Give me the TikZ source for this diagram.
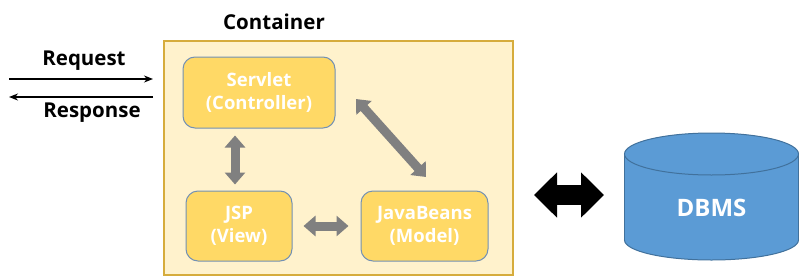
\documentclass[tikz,border=0pt]{standalone}
\usepackage{fontspec}
\setmainfont{Open Sans}
\usetikzlibrary{arrows.meta}
\definecolor{contfill}{HTML}{FFF2CC}
\definecolor{contline}{RGB}{214,172,60}
\definecolor{boxfill}{HTML}{FFD966}
\definecolor{boxline}{RGB}{115,145,180}
\definecolor{garrowc}{HTML}{808080}
\definecolor{dbfill}{HTML}{5B9BD5}
\definecolor{dbline}{HTML}{41719C}
\tikzset{
  container/.style={draw=contline, fill=contfill, line width=1.2pt, minimum width=349pt, minimum height=234pt},
  mvcbox/.style={draw=boxline, fill=boxfill, line width=1pt, rounded corners=12pt, align=center,
     text=white, font=\bfseries\fontsize{18.5}{23}\selectfont, inner sep=0pt},
  lbl/.style={font=\bfseries\fontsize{20.5}{24}\selectfont, text=black, inner sep=0pt},
  garrow/.style={draw=garrowc, line width=9pt, {Triangle[width=20pt,length=12pt]}-{Triangle[width=20pt,length=12pt]}},
  barrow/.style={draw=black, line width=20pt, {Triangle[width=44pt,length=23pt]}-{Triangle[width=44pt,length=23pt]}},
  thinarrow/.style={draw=black, line width=1.8pt, -{Stealth[length=9pt,width=7pt]}},
}
\begin{document}
\begin{tikzpicture}[x=1pt,y=-1pt]
\useasboundingbox (0,0) rectangle (800,276);
% container
\node[container] (cont) at (338.5,158) {};
\node[lbl] (contlbl) at (274,22) {Container};
% boxes
\node[mvcbox, minimum width=152pt, minimum height=71pt] (servlet) at (259,92.5) {Servlet\\(Controller)};
\node[mvcbox, minimum width=106pt, minimum height=70pt] (jsp) at (239,226) {JSP\\(View)};
\node[mvcbox, minimum width=127pt, minimum height=70pt] (beans) at (424.5,226) {JavaBeans\\(Model)};
% gray arrows
\draw[garrow, shorten <=6pt, shorten >=7pt] ([xshift=-4pt]jsp.north) -- ([xshift=-4pt]jsp.north |- servlet.south);
\draw[garrow, shorten <=11pt, shorten >=12pt] (jsp.east) -- (beans.west);
\coordinate (d1) at (356,99);
\coordinate (d2) at (426,177);
\draw[garrow] (d1) -- (d2);
% request/response
\coordinate (rqL) at (9,79);
\coordinate (rqR) at (153,79);
\coordinate (rsL) at (9,97);
\coordinate (rsR) at (153,97);
\draw[thinarrow] (rqL) -- (rqR);
\draw[thinarrow] (rsR) -- (rsL);
\node[lbl] (req) at (84,61) {Request};
\node[lbl] (resp) at (92,113) {Response};
% black double arrow
\coordinate (b1) at (534,195);
\coordinate (b2) at (604,195);
\draw[barrow] (b1) -- (b2);
% DBMS cylinder
\fill[dbfill, draw=dbline, line width=1pt] (711.5,240) ellipse [x radius=87, y radius=20];
\fill[dbfill] (624.5,154) rectangle (798.5,240);
\draw[dbline, line width=1pt] (624.5,154) -- (624.5,240);
\draw[dbline, line width=1pt] (798.5,154) -- (798.5,240);
\fill[dbfill, draw=dbline, line width=1pt] (711.5,154) ellipse [x radius=87, y radius=21];
\node[font=\bfseries\fontsize{24}{28}\selectfont, text=white, inner sep=0pt] (dbms) at (711.5,208) {DBMS};
\end{tikzpicture}
\end{document}
